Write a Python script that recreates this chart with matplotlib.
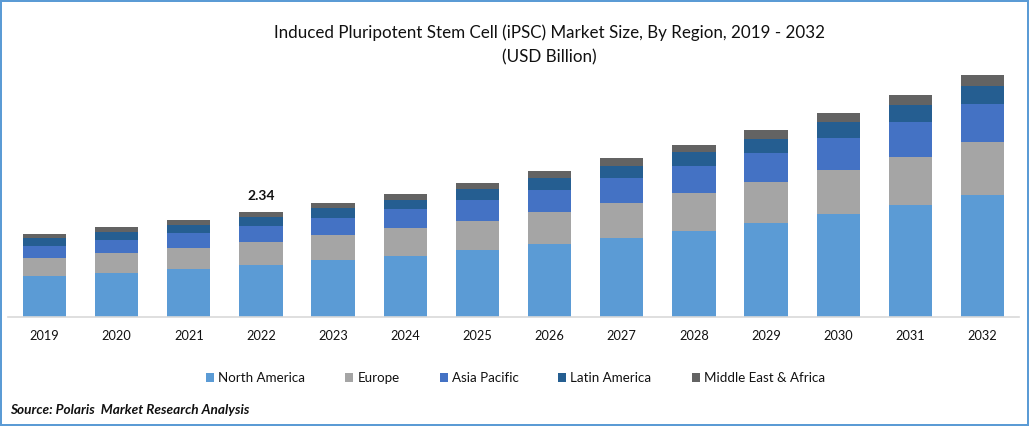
import matplotlib
matplotlib.use('Agg')
import matplotlib.pyplot as plt
from matplotlib.patches import Rectangle

plt.rcParams['font.family'] = ['Lato', 'DejaVu Sans']

years = ['2019', '2020', '2021', '2022', '2023', '2024', '2025', '2026',
         '2027', '2028', '2029', '2030', '2031', '2032']
north_america = [0.91, 0.98, 1.07, 1.16, 1.27, 1.36, 1.49, 1.63, 1.76, 1.92, 2.09, 2.30, 2.50, 2.72]
europe = [0.40, 0.45, 0.47, 0.51, 0.56, 0.62, 0.65, 0.71, 0.78, 0.85, 0.91, 0.98, 1.07, 1.18]
asia_pacific = [0.27, 0.29, 0.33, 0.36, 0.38, 0.42, 0.47, 0.49, 0.56, 0.60, 0.65, 0.71, 0.78, 0.85]
latin_america = [0.18, 0.18, 0.18, 0.20, 0.22, 0.22, 0.25, 0.27, 0.27, 0.31, 0.33, 0.36, 0.38, 0.40]
middle_east = [0.09, 0.11, 0.11, 0.11, 0.11, 0.13, 0.13, 0.16, 0.18, 0.16, 0.20, 0.20, 0.22, 0.25]

names = ['North America', 'Europe', 'Asia Pacific', 'Latin America', 'Middle East & Africa']
colors = ['#5B9BD5', '#A5A5A5', '#4472C4', '#255E91', '#636363']
series = [north_america, europe, asia_pacific, latin_america, middle_east]

W, H = 1029, 426
fig = plt.figure(figsize=(W / 100, H / 100), dpi=100)

# axes placed in pixels: baseline at y=317, top of the plot at y=70
ax = fig.add_axes([8.4 / W, 1 - 317 / H, 1010.2 / W, 247 / H])

bottom = [0] * len(years)
for values, name, color in zip(series, names, colors):
    ax.bar(years, values, bottom=bottom, width=0.6, color=color, label=name)
    bottom = [b + v for b, v in zip(bottom, values)]

ax.set_xlim(-0.5, len(years) - 0.5)
ax.set_ylim(0, 247 * 0.0223)
ax.set_yticks([])
for side in ['top', 'left', 'right']:
    ax.spines[side].set_visible(False)
ax.spines['bottom'].set_color('#D9D9D9')
ax.spines['bottom'].set_linewidth(1.2)
ax.tick_params(axis='x', length=0, pad=9.5, labelsize=9.2, labelcolor='#111111')

# only 2022 carries a value label
ax.annotate('2.34', (3, bottom[3]), xytext=(0, 10), textcoords='offset pixels',
            ha='center', va='bottom', fontsize=10, fontweight='bold', color='#111111')

fig.text(549.5 / W, 1 - 33 / H, 'Induced Pluripotent Stem Cell (iPSC) Market Size, By Region, 2019 - 2032',
         ha='center', va='center', fontsize=12.25, color='#111111')
fig.text(549 / W, 1 - 57 / H, '(USD Billion)', ha='center', va='center', fontsize=12.25, color='#111111')

fig.legend(loc='center', bbox_to_anchor=(515.5 / W, 1 - 378 / H), ncol=5, frameon=False,
           fontsize=9.6, handlelength=0.6, handleheight=0.6, handletextpad=0.3,
           columnspacing=3.0, labelcolor='#111111')

fig.text(10 / W, 1 - 410 / H, 'Source: Polaris  Market Research Analysis', ha='left', va='center',
         fontsize=9.8, fontweight='bold', fontstyle='italic', color='#111111')

# blue frame around the picture
fig.add_artist(Rectangle((1 / W, 1 / H), (W - 2) / W, (H - 2) / H, transform=fig.transFigure,
                         fill=False, edgecolor='#5B9BD5', linewidth=1.44))

fig.savefig('out.png', dpi=100)
